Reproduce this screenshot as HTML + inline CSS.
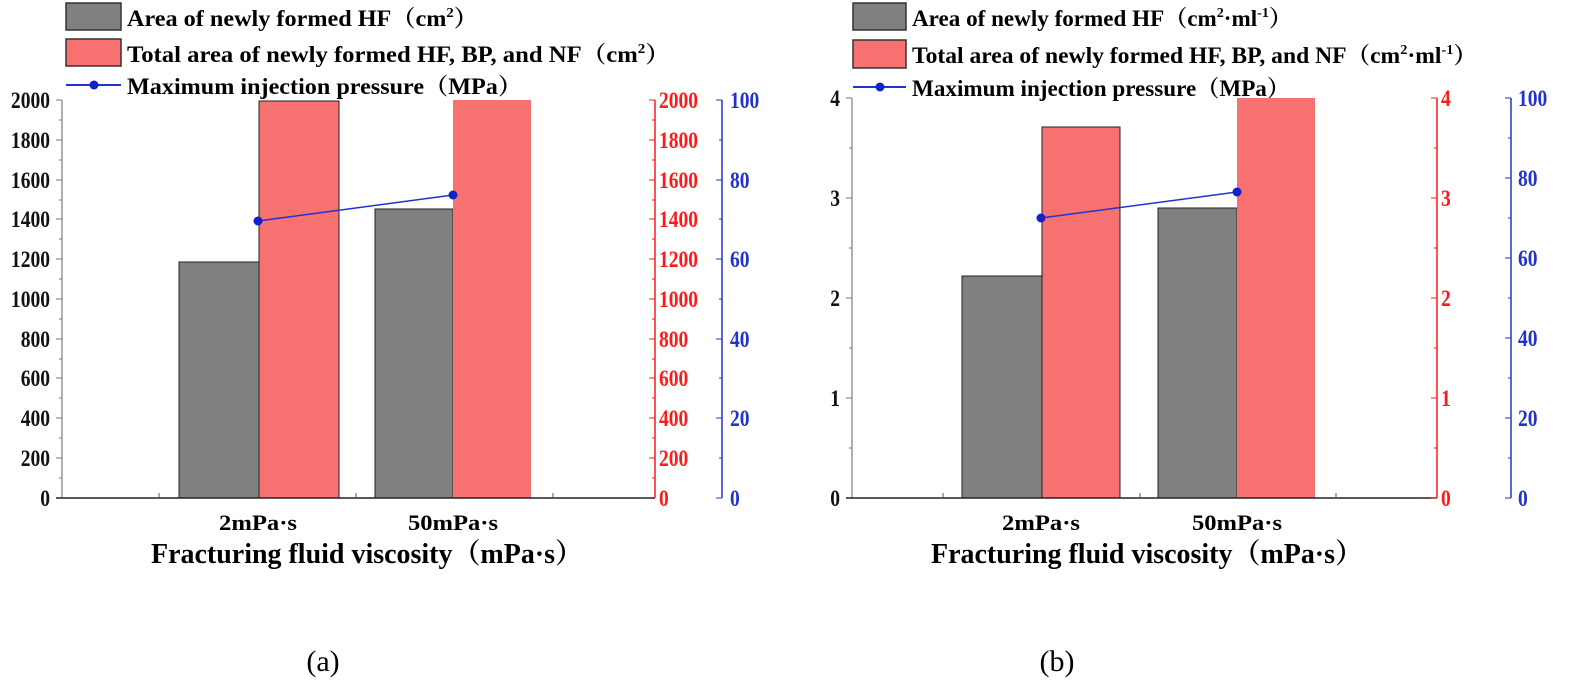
<!DOCTYPE html>
<html><head><meta charset="utf-8"><style>
html,body{margin:0;padding:0;background:#fff;}
svg{display:block;}
text{font-family:"Liberation Serif","Noto Serif CJK SC",serif;font-weight:bold;}
</style></head><body>
<svg width="1581" height="687" viewBox="0 0 1581 687" xmlns="http://www.w3.org/2000/svg">
<!-- ===== Panel (a) ===== -->
<g>
<rect x="66" y="3" width="55" height="27" fill="#808080" stroke="#333" stroke-width="1.5"/>
<text x="127" y="26" font-size="23" textLength="351" lengthAdjust="spacingAndGlyphs">Area of newly formed HF（cm<tspan font-size="14" dy="-9">2</tspan><tspan dy="9">）</tspan></text>
<rect x="66" y="39" width="55" height="27" fill="#f87171" stroke="#333" stroke-width="1.5"/>
<text x="127" y="62" font-size="23" textLength="543" lengthAdjust="spacingAndGlyphs">Total area of newly formed HF, BP, and NF（cm<tspan font-size="14" dy="-9">2</tspan><tspan dy="9">）</tspan></text>
<line x1="66" y1="85" x2="121" y2="85" stroke="#2233cc" stroke-width="2"/>
<circle cx="94" cy="85" r="4.5" fill="#1122cc"/>
<text x="127" y="94" font-size="23" textLength="395" lengthAdjust="spacingAndGlyphs">Maximum injection pressure（MPa）</text>

<rect x="179" y="262" width="80" height="236" fill="#808080" stroke="#222" stroke-width="1"/>
<rect x="259" y="101" width="80" height="397" fill="#f87171" stroke="#222" stroke-width="1"/>
<rect x="375" y="209" width="78" height="289" fill="#808080" stroke="#222" stroke-width="1"/>
<rect x="453" y="100" width="78" height="398" fill="#f87171"/>

<line x1="62" y1="100" x2="62" y2="498" stroke="#999" stroke-width="1.5"/>
<g stroke="#777" stroke-width="1">
<line x1="56" y1="100" x2="62" y2="100"/><line x1="56" y1="140" x2="62" y2="140"/><line x1="56" y1="180" x2="62" y2="180"/><line x1="56" y1="219" x2="62" y2="219"/><line x1="56" y1="259" x2="62" y2="259"/><line x1="56" y1="299" x2="62" y2="299"/><line x1="56" y1="339" x2="62" y2="339"/><line x1="56" y1="378" x2="62" y2="378"/><line x1="56" y1="418" x2="62" y2="418"/><line x1="56" y1="458" x2="62" y2="458"/>
<line x1="59" y1="120" x2="62" y2="120"/><line x1="59" y1="160" x2="62" y2="160"/><line x1="59" y1="200" x2="62" y2="200"/><line x1="59" y1="239" x2="62" y2="239"/><line x1="59" y1="279" x2="62" y2="279"/><line x1="59" y1="319" x2="62" y2="319"/><line x1="59" y1="359" x2="62" y2="359"/><line x1="59" y1="398" x2="62" y2="398"/><line x1="59" y1="438" x2="62" y2="438"/><line x1="59" y1="478" x2="62" y2="478"/>
</g>
<g font-size="23" text-anchor="end" fill="#111" transform="translate(50,0) scale(0.85,1)">
<text x="0" y="108">2000</text><text x="0" y="148">1800</text><text x="0" y="188">1600</text><text x="0" y="227">1400</text><text x="0" y="267">1200</text><text x="0" y="307">1000</text><text x="0" y="347">800</text><text x="0" y="386">600</text><text x="0" y="426">400</text><text x="0" y="466">200</text><text x="0" y="506">0</text>
</g>
<line x1="56" y1="498" x2="655" y2="498" stroke="#222" stroke-width="1.5"/>
<g stroke="#555"><line x1="159" y1="498" x2="159" y2="493"/><line x1="356" y1="498" x2="356" y2="493"/><line x1="553" y1="498" x2="553" y2="493"/></g>
<text x="258" y="530" font-size="22" text-anchor="middle" textLength="78" lengthAdjust="spacingAndGlyphs">2mPa·s</text>
<text x="453" y="530" font-size="22" text-anchor="middle" textLength="90" lengthAdjust="spacingAndGlyphs">50mPa·s</text>
<text x="367" y="563" font-size="28" text-anchor="middle" textLength="432" lengthAdjust="spacingAndGlyphs">Fracturing fluid viscosity（mPa·s）</text>

<line x1="655" y1="100" x2="655" y2="498" stroke="#ff1a1a" stroke-width="1.5"/>
<g stroke="#ff1a1a" stroke-width="1">
<line x1="649" y1="100" x2="655" y2="100"/><line x1="649" y1="140" x2="655" y2="140"/><line x1="649" y1="180" x2="655" y2="180"/><line x1="649" y1="219" x2="655" y2="219"/><line x1="649" y1="259" x2="655" y2="259"/><line x1="649" y1="299" x2="655" y2="299"/><line x1="649" y1="339" x2="655" y2="339"/><line x1="649" y1="378" x2="655" y2="378"/><line x1="649" y1="418" x2="655" y2="418"/><line x1="649" y1="458" x2="655" y2="458"/>
<line x1="652" y1="120" x2="655" y2="120"/><line x1="652" y1="160" x2="655" y2="160"/><line x1="652" y1="200" x2="655" y2="200"/><line x1="652" y1="239" x2="655" y2="239"/><line x1="652" y1="279" x2="655" y2="279"/><line x1="652" y1="319" x2="655" y2="319"/><line x1="652" y1="359" x2="655" y2="359"/><line x1="652" y1="398" x2="655" y2="398"/><line x1="652" y1="438" x2="655" y2="438"/><line x1="652" y1="478" x2="655" y2="478"/>
</g>
<g font-size="23" fill="#ff1a1a" transform="translate(659,0) scale(0.85,1)">
<text x="0" y="108">2000</text><text x="0" y="148">1800</text><text x="0" y="188">1600</text><text x="0" y="227">1400</text><text x="0" y="267">1200</text><text x="0" y="307">1000</text><text x="0" y="347">800</text><text x="0" y="386">600</text><text x="0" y="426">400</text><text x="0" y="466">200</text><text x="0" y="506">0</text>
</g>
<line x1="722" y1="100" x2="722" y2="498" stroke="#2233cc" stroke-width="1.5"/>
<g stroke="#2233cc" stroke-width="1">
<line x1="716" y1="100" x2="722" y2="100"/><line x1="716" y1="180" x2="722" y2="180"/><line x1="716" y1="259" x2="722" y2="259"/><line x1="716" y1="339" x2="722" y2="339"/><line x1="716" y1="418" x2="722" y2="418"/><line x1="716" y1="498" x2="722" y2="498"/>
<line x1="719" y1="140" x2="722" y2="140"/><line x1="719" y1="219" x2="722" y2="219"/><line x1="719" y1="299" x2="722" y2="299"/><line x1="719" y1="378" x2="722" y2="378"/><line x1="719" y1="458" x2="722" y2="458"/>
</g>
<g font-size="23" fill="#2233cc" transform="translate(730,0) scale(0.85,1)">
<text x="0" y="108">100</text><text x="0" y="188">80</text><text x="0" y="267">60</text><text x="0" y="347">40</text><text x="0" y="426">20</text><text x="0" y="506">0</text>
</g>
<line x1="258" y1="221" x2="453" y2="195" stroke="#2233cc" stroke-width="1.5"/>
<circle cx="258" cy="221" r="4.5" fill="#1122cc"/><circle cx="453" cy="195" r="4.5" fill="#1122cc"/>
<text x="323" y="671" font-size="30" style="font-weight:normal" text-anchor="middle">(a)</text>
</g>

<!-- ===== Panel (b) ===== -->
<g>
<rect x="853" y="3" width="53" height="27" fill="#808080" stroke="#333" stroke-width="1.5"/>
<text x="912" y="26" font-size="23" textLength="380" lengthAdjust="spacingAndGlyphs">Area of newly formed HF（cm<tspan font-size="14" dy="-9">2</tspan><tspan dy="9">·ml</tspan><tspan font-size="14" dy="-9">-1</tspan><tspan dy="9">）</tspan></text>
<rect x="853" y="40" width="53" height="28" fill="#f87171" stroke="#333" stroke-width="1.5"/>
<text x="912" y="63" font-size="23" textLength="565" lengthAdjust="spacingAndGlyphs">Total area of newly formed HF, BP, and NF（cm<tspan font-size="14" dy="-9">2</tspan><tspan dy="9">·ml</tspan><tspan font-size="14" dy="-9">-1</tspan><tspan dy="9">）</tspan></text>
<line x1="853" y1="87" x2="906" y2="87" stroke="#2233cc" stroke-width="2"/>
<circle cx="880" cy="87" r="4.5" fill="#1122cc"/>
<text x="912" y="96" font-size="23" textLength="378" lengthAdjust="spacingAndGlyphs">Maximum injection pressure（MPa）</text>

<rect x="962" y="276" width="80" height="222" fill="#808080" stroke="#222" stroke-width="1"/>
<rect x="1042" y="127" width="78" height="371" fill="#f87171" stroke="#222" stroke-width="1"/>
<rect x="1158" y="208" width="79" height="290" fill="#808080" stroke="#222" stroke-width="1"/>
<rect x="1237" y="98" width="78" height="400" fill="#f87171"/>

<line x1="852" y1="98" x2="852" y2="498" stroke="#999" stroke-width="1.5"/>
<g stroke="#777"><line x1="846" y1="98" x2="852" y2="98"/><line x1="846" y1="198" x2="852" y2="198"/><line x1="846" y1="298" x2="852" y2="298"/><line x1="846" y1="398" x2="852" y2="398"/><line x1="849" y1="148" x2="852" y2="148"/><line x1="849" y1="248" x2="852" y2="248"/><line x1="849" y1="348" x2="852" y2="348"/><line x1="849" y1="448" x2="852" y2="448"/></g>
<g font-size="23" text-anchor="end" fill="#111" transform="translate(840,0) scale(0.85,1)">
<text x="0" y="106">4</text><text x="0" y="206">3</text><text x="0" y="306">2</text><text x="0" y="406">1</text><text x="0" y="506">0</text>
</g>
<line x1="846" y1="498" x2="1437" y2="498" stroke="#222" stroke-width="1.5"/>
<g stroke="#555"><line x1="943" y1="498" x2="943" y2="493"/><line x1="1140" y1="498" x2="1140" y2="493"/><line x1="1336" y1="498" x2="1336" y2="493"/></g>
<text x="1041" y="530" font-size="22" text-anchor="middle" textLength="78" lengthAdjust="spacingAndGlyphs">2mPa·s</text>
<text x="1237" y="530" font-size="22" text-anchor="middle" textLength="90" lengthAdjust="spacingAndGlyphs">50mPa·s</text>
<text x="1147" y="563" font-size="28" text-anchor="middle" textLength="432" lengthAdjust="spacingAndGlyphs">Fracturing fluid viscosity（mPa·s）</text>

<line x1="1437" y1="98" x2="1437" y2="498" stroke="#ff1a1a" stroke-width="1.5"/>
<g stroke="#ff1a1a"><line x1="1431" y1="98" x2="1437" y2="98"/><line x1="1431" y1="198" x2="1437" y2="198"/><line x1="1431" y1="298" x2="1437" y2="298"/><line x1="1431" y1="398" x2="1437" y2="398"/><line x1="1431" y1="498" x2="1437" y2="498"/><line x1="1434" y1="148" x2="1437" y2="148"/><line x1="1434" y1="248" x2="1437" y2="248"/><line x1="1434" y1="348" x2="1437" y2="348"/><line x1="1434" y1="448" x2="1437" y2="448"/></g>
<g font-size="23" fill="#ff1a1a" transform="translate(1441,0) scale(0.85,1)">
<text x="0" y="106">4</text><text x="0" y="206">3</text><text x="0" y="306">2</text><text x="0" y="406">1</text><text x="0" y="506">0</text>
</g>
<line x1="1511" y1="98" x2="1511" y2="498" stroke="#2233cc" stroke-width="1.5"/>
<g stroke="#2233cc"><line x1="1505" y1="98" x2="1511" y2="98"/><line x1="1505" y1="178" x2="1511" y2="178"/><line x1="1505" y1="258" x2="1511" y2="258"/><line x1="1505" y1="338" x2="1511" y2="338"/><line x1="1505" y1="418" x2="1511" y2="418"/><line x1="1505" y1="498" x2="1511" y2="498"/><line x1="1508" y1="138" x2="1511" y2="138"/><line x1="1508" y1="218" x2="1511" y2="218"/><line x1="1508" y1="298" x2="1511" y2="298"/><line x1="1508" y1="378" x2="1511" y2="378"/><line x1="1508" y1="458" x2="1511" y2="458"/></g>
<g font-size="23" fill="#2233cc" transform="translate(1518,0) scale(0.85,1)">
<text x="0" y="106">100</text><text x="0" y="186">80</text><text x="0" y="266">60</text><text x="0" y="346">40</text><text x="0" y="426">20</text><text x="0" y="506">0</text>
</g>
<line x1="1041" y1="218" x2="1237" y2="192" stroke="#2233cc" stroke-width="1.5"/>
<circle cx="1041" cy="218" r="4.5" fill="#1122cc"/><circle cx="1237" cy="192" r="4.5" fill="#1122cc"/>
<text x="1057" y="671" font-size="30" style="font-weight:normal" text-anchor="middle">(b)</text>
</g>
</svg>
</body></html>
